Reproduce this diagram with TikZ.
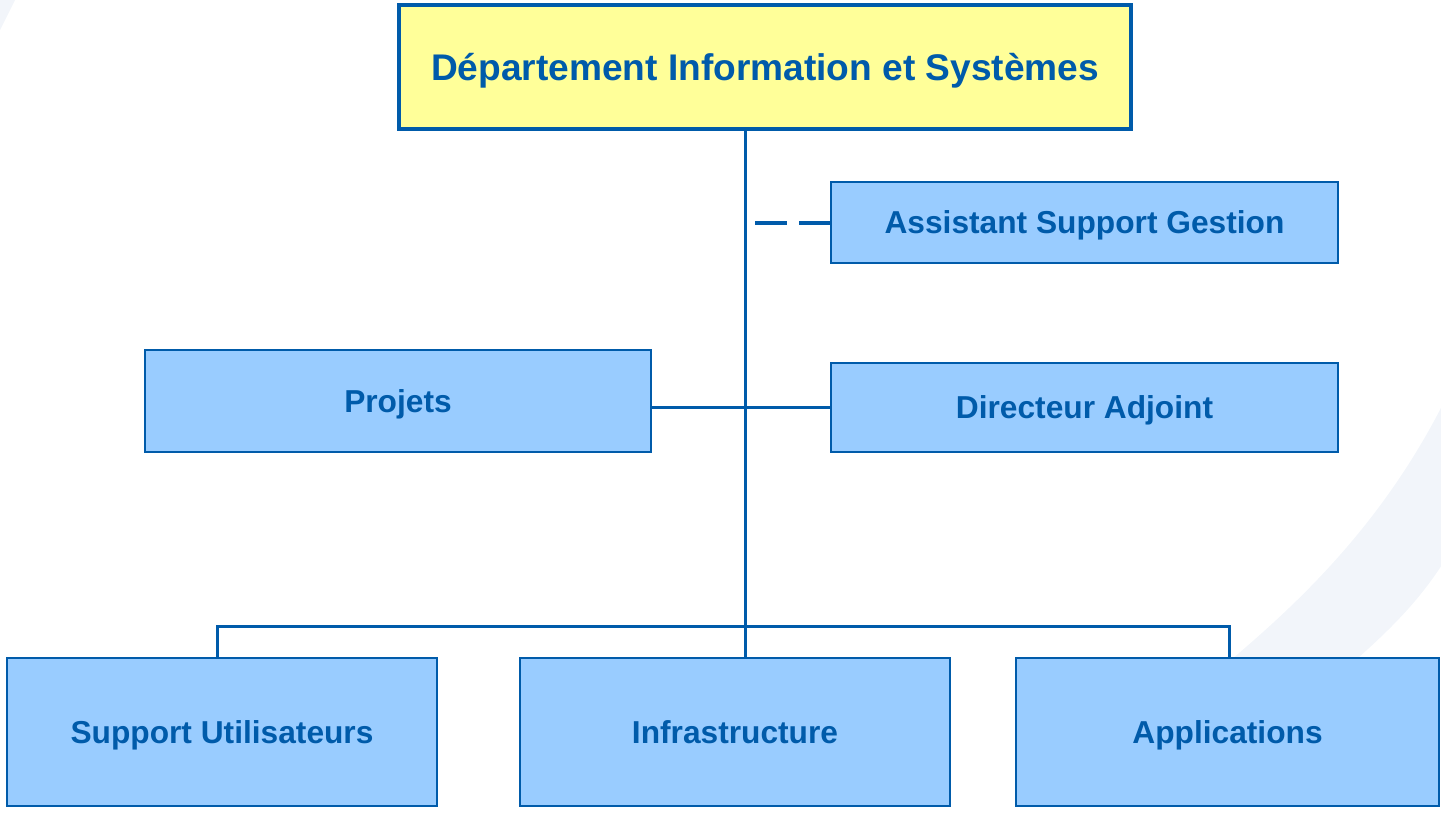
\documentclass[tikz,border=0pt]{standalone}
\usepackage{fontspec}
\setmainfont{Liberation Sans}
\definecolor{dblue}{RGB}{0,91,170}
\definecolor{lblue}{RGB}{153,204,255}
\definecolor{lyellow}{RGB}{255,255,153}
\definecolor{bgband}{RGB}{242,245,250}
\begin{document}
\begin{tikzpicture}[x=1pt,y=-1pt,
  box/.style={draw=dblue, fill=lblue, line width=2.5pt, rectangle, inner sep=0pt,
    text=dblue, text height=22.7pt, text depth=0pt, font=\fontsize{31.7}{38}\selectfont\bfseries},
  topbox/.style={box, fill=lyellow, line width=4pt, text height=26.5pt, font=\fontsize{37.1}{44}\selectfont\bfseries},
  link/.style={draw=dblue, line width=3pt},
  dlink/.style={draw=dblue, line width=3.5pt, dash pattern=on 32pt off 12pt}]
\useasboundingbox (0,0) rectangle (1441,815);
% faint background band
\fill[bgband] (1225,665) .. controls (1290,610) and (1380,530) .. (1445,400) -- (1445,560) .. controls (1420,600) and (1390,630) .. (1350,665) -- cycle;
\fill[bgband] (0,0) -- (15,0) -- (0,30) -- cycle;
\coordinate (trunktop) at (745,131);
\coordinate (bus) at (745,626.5);
\coordinate (dstart) at (755,223);
% boxes
\node[topbox, minimum width=732pt, minimum height=124pt] (top) at (765,67) {Département Information et Systèmes};
\node[box, minimum width=507pt, minimum height=81pt] (asg) at (1084.5,222.5) {Assistant Support Gestion};
\node[box, minimum width=506pt, minimum height=102pt] (proj) at (398,401) {Projets};
\node[box, minimum width=507pt, minimum height=89pt] (da) at (1084.5,407.5) {Directeur Adjoint};
\node[box, minimum width=430pt, minimum height=148pt] (su) at (222,732) {Support Utilisateurs};
\node[box, minimum width=430pt, minimum height=148pt] (infra) at (735,732) {Infrastructure};
\node[box, minimum width=423pt, minimum height=148pt] (app) at (1227.5,732) {Applications};
% connectors
\draw[link] (trunktop) -- (trunktop |- infra.north);
\draw[link, line width=2.5pt] (proj.east |- da.west) -- (da.west);
\draw[dlink] (dstart) -- (dstart -| asg.west);
\draw[link] ([xshift=-5pt]su.north) |- (bus) -| ([xshift=1.5pt]app.north);
\end{tikzpicture}
\end{document}
